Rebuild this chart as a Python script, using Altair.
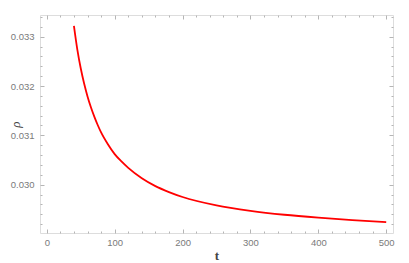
import altair as alt
import pandas as pd

# data
t_values = [40, 45, 50, 55, 60, 65, 70, 75, 80, 90, 100, 110, 120, 140, 160, 180, 200, 250, 300,
            350, 400, 450, 500]
rho_values = [0.03322, 0.03274, 0.03236, 0.03205, 0.03179, 0.03157, 0.03138, 0.03121, 0.03106,
              0.03082, 0.03062, 0.03047, 0.03034, 0.03013, 0.02997, 0.02985, 0.02975, 0.02958,
              0.02947, 0.02939, 0.02933, 0.02928, 0.02924]

x_major = [0, 100, 200, 300, 400, 500]
x_minor = [20, 40, 60, 80, 120, 140, 160, 180, 220, 240, 260, 280, 320, 340, 360, 380,
           420, 440, 460, 480]
y_major = [0.030, 0.031, 0.032, 0.033]
y_minor = [0.0292, 0.0294, 0.0296, 0.0298, 0.0302, 0.0304, 0.0306, 0.0308,
           0.0312, 0.0314, 0.0316, 0.0318, 0.0322, 0.0324, 0.0326, 0.0328,
           0.0332, 0.0334]

x_domain = [-10, 510]
y_domain = [0.02902, 0.03344]

W, H = 353, 218
FRAME = "#b5b5b5"
LABEL = "#7a7a7a"

df = pd.DataFrame({"t": t_values, "rho": rho_values})
base = alt.Chart(df)

xs = alt.Scale(domain=x_domain, nice=False, zero=False)
ys = alt.Scale(domain=y_domain, nice=False, zero=False)


def tick_axis(orient, values, size, offset):
    return alt.Axis(orient=orient, values=values, tickSize=size, offset=offset,
                    labels=False, domain=False, grid=False, title=None,
                    tickColor=FRAME, tickWidth=1)


main = base.mark_line(color="#ff0000", strokeWidth=1.8, interpolate="monotone").encode(
    x=alt.X("t:Q", scale=xs,
            axis=alt.Axis(orient="bottom", values=x_major, ticks=False, domain=False, grid=False,
                          labelColor=LABEL, labelFontSize=9.5, labelFont="Liberation Sans",
                          labelPadding=4, title="t", titleFont="Liberation Serif",
                          titleFontSize=13, titleFontWeight="bold", titleColor="#444444",
                          titleX=W / 2, titleY=22, titleBaseline="middle")),
    y=alt.Y("rho:Q", scale=ys,
            axis=alt.Axis(orient="left", values=y_major, format=".3f", ticks=False, domain=False,
                          grid=False, labelColor=LABEL, labelFontSize=9.5,
                          labelFont="Liberation Sans", labelPadding=6, title="ρ",
                          titleFont="Liberation Serif", titleFontSize=13,
                          titleFontStyle="italic", titleFontWeight="normal",
                          titleColor="#444444", titleX=-25, titleY=H / 2,
                          titleBaseline="middle")),
)

layers = [main]
for xo, yo, xv, yv, size in [
    ("top", "right", x_major, y_major, 4),
    ("bottom", "left", x_major, y_major, 4),
    ("top", "right", x_minor, y_minor, 2),
    ("bottom", "left", x_minor, y_minor, 2),
]:
    layers.append(
        base.mark_line(opacity=0).encode(
            x=alt.X("t:Q", scale=xs, axis=tick_axis(xo, xv, size, -H)),
            y=alt.Y("rho:Q", scale=ys, axis=tick_axis(yo, yv, size, -W)),
        )
    )

chart = (
    alt.layer(*layers)
    .resolve_axis(x="independent", y="independent")
    .properties(width=W, height=H, padding={"left": 32, "top": 7, "right": 8, "bottom": 30},
                autosize=alt.AutoSizeParams(type="none"))
    .configure_view(stroke=FRAME, strokeWidth=1)
    .configure(background="white")
)

chart.save("out.html", embed_options={"renderer": "svg", "actions": False})
